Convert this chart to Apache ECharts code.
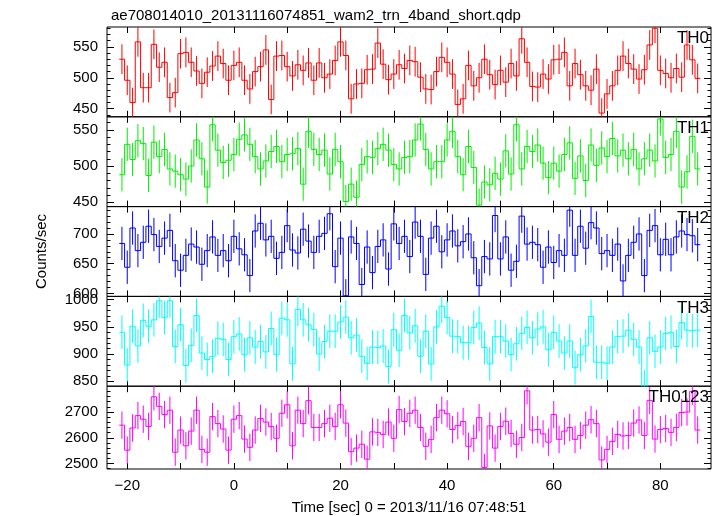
<!DOCTYPE html>
<html><head><meta charset="utf-8">
<script src="https://cdn.jsdelivr.net/npm/echarts@6/dist/echarts.min.js"></script>
<style>html,body{margin:0;padding:0;background:#fff}#c{width:717px;height:516px}</style>
</head><body><div id="c"></div>
<script>
// bin centres [s]
const time = [-21,-20,-19,-18,-17,-16,-15,-14,-13,-12,-11,-10,-9,-8,-7,-6,-5,-4,-3,-2,-1,0,1,2,3,4,5,6,7,8,9,10,11,12,13,14,15,16,17,18,19,20,21,22,23,24,25,26,27,28,29,30,31,32,33,34,35,36,37,38,39,40,41,42,43,44,45,46,47,48,49,50,51,52,53,54,55,56,57,58,59,60,61,62,63,64,65,66,67,68,69,70,71,72,73,74,75,76,77,78,79,80,81,82,83,84,85,86,87];

const th0 = [530,496,460,558,484,484,554,517,525,468,476,539,541,525,511,491,509,519,535,523,496,520,525,496,482,510,518,545,465,535,536,518,503,521,512,524,496,524,500,506,528,558,536,466,490,491,513,514,556,522,497,506,521,515,528,526,501,482,481,510,533,525,506,457,466,520,487,500,530,505,489,512,493,523,503,563,525,486,485,506,498,529,530,541,487,523,505,487,480,514,443,474,487,512,535,523,514,498,513,553,580,512,507,500,515,501,553,529,499];
const th1 = [488,530,509,535,531,487,533,513,523,496,493,488,482,500,536,510,471,557,522,505,508,516,537,543,530,513,496,507,520,527,506,516,517,524,475,548,523,516,522,489,523,506,451,475,457,502,513,512,524,530,522,502,496,512,513,536,558,523,496,506,506,536,548,513,488,527,498,446,478,474,490,482,521,489,557,496,527,520,529,504,484,504,493,516,532,483,514,480,529,501,525,513,538,514,522,510,523,496,510,522,507,565,512,516,548,471,492,541,496];
const th2 = [684,644,710,672,686,713,699,679,693,706,655,639,664,683,678,649,672,695,664,672,655,696,675,665,630,705,718,690,696,659,669,714,673,668,708,688,669,696,701,734,645,693,596,695,684,615,678,635,679,690,641,717,684,696,662,720,696,632,693,713,670,690,705,680,687,700,660,613,662,658,731,658,695,639,654,730,683,686,682,644,678,652,672,664,740,664,713,676,719,710,667,672,664,683,621,664,686,700,630,706,714,665,691,665,695,705,699,697,682];
const th3 = [940,880,951,915,962,951,963,998,967,998,914,954,879,916,971,902,890,896,929,927,890,932,937,899,930,913,923,904,947,899,966,963,882,982,963,954,945,900,923,942,942,959,968,930,935,896,883,913,912,915,877,945,907,971,939,952,896,942,882,950,988,967,933,932,921,921,949,957,912,882,932,932,924,899,919,938,949,930,946,950,908,940,924,902,924,875,899,915,969,885,885,883,913,932,933,944,927,913,840,930,905,913,938,940,914,958,944,943,944];
const th0123 = [2649,2552,2638,2686,2672,2644,2759,2722,2690,2707,2544,2630,2569,2626,2707,2555,2544,2682,2655,2634,2552,2672,2686,2595,2563,2630,2675,2661,2644,2598,2695,2728,2569,2707,2655,2744,2640,2640,2655,2676,2644,2728,2657,2546,2560,2575,2517,2623,2621,2613,2661,2598,2709,2663,2695,2707,2640,2567,2594,2678,2707,2693,2632,2647,2663,2567,2598,2678,2485,2646,2560,2644,2664,2617,2575,2601,2782,2630,2632,2615,2583,2690,2594,2626,2640,2594,2609,2649,2670,2655,2514,2555,2586,2613,2607,2609,2657,2669,2609,2745,2595,2632,2636,2621,2640,2698,2700,2780,2630];

// 1-sigma error per band [counts/sec]
const err0 = 24, err1 = 23, err2 = 28, err3 = 31, err0123 = 53;

const panelNames = ['TH0','TH1','TH2','TH3','TH0123'];
const panelColors = ['#ff0000','#00ee00','#0000ff','#00ffff','#ff00ff'];
const yMin = [437,444,595,841,2479];
const yMax = [582,568,746,1006,2800];
const yMajor = [[450,500,550],[450,500,550],[600,650,700],[850,900,950,1000],[2500,2600,2700]];
const yMinor = [
  [440,460,470,480,490,510,520,530,540,560,570,580],
  [450,460,470,480,490,510,520,530,540,560],
  [610,620,630,640,660,670,680,690,710,720,730,740],
  [860,870,880,890,910,920,930,940,960,970,980,990],
  [2480,2520,2540,2560,2580,2620,2640,2660,2680,2720,2740,2760,2780]
];
const xTicks = [-20,-10,0,10,20,30,40,50,60,70,80];
const xLabels = [-20,0,20,40,60,80];
const xMin = -23.8, xMax = 89.5;

const bands = [th0, th1, th2, th3, th0123];
const errs = [err0, err1, err2, err3, err0123];

const FONT = 'Liberation Sans, Arial, Helvetica, sans-serif';
const chart = echarts.init(document.getElementById('c'), null, {renderer:'canvas'});

const L = 107, R = 6, TOP = 27, H = 89.8;
const grids = [], xAxes = [], yAxes = [], series = [], titles = [];

titles.push({text:'ae708014010_20131116074851_wam2_trn_4band_short.qdp', left:106, top:3,
  textStyle:{fontFamily:FONT, fontSize:15, fontWeight:'normal', color:'#000'}});

const noLine = {show:false, onZero:false};

for (let i = 0; i < 5; i++) {
  grids.push({left:L, right:R, top:TOP + i*H, height:H, show:true, borderColor:'#000', borderWidth:1, backgroundColor:'transparent'});
  const last = i === 4;
  const xb = {gridIndex:i, type:'value', min:xMin, max:xMax, position:'bottom',
    axisLine:noLine, splitLine:{show:false},
    axisTick:{show:true, inside:true, length:6, customValues:xTicks, lineStyle:{color:'#000'}},
    axisLabel:{show:last, customValues:xLabels, fontFamily:FONT, fontSize:15, color:'#000', margin:9,
      formatter: v => String(v).replace('-', '\u2212')}};
  if (last) {
    xb.name = 'Time [sec] 0 = 2013/11/16 07:48:51';
    xb.nameLocation = 'middle';
    xb.nameGap = 31;
    xb.nameTextStyle = {fontFamily:FONT, fontSize:15, color:'#000'};
  }
  xAxes.push(xb);
  xAxes.push({gridIndex:i, type:'value', min:xMin, max:xMax, position:'top',
    axisLine:noLine, splitLine:{show:false}, axisLabel:{show:false},
    axisTick:{show:true, inside:true, length:6, customValues:xTicks, lineStyle:{color:'#000'}}});

  const base = {gridIndex:i, type:'value', min:yMin[i], max:yMax[i], axisLine:noLine, splitLine:{show:false}};
  const yl = Object.assign({}, base, {position:'left',
    axisTick:{show:true, inside:true, length:7, customValues:yMajor[i], lineStyle:{color:'#000'}},
    axisLabel:{show:true, customValues:yMajor[i], fontFamily:FONT, fontSize:15, color:'#000', margin:9,
      formatter: v => String(v)}});
  if (i === 2) {
    yl.name = 'Counts/sec'; yl.nameLocation = 'middle'; yl.nameGap = 58;
    yl.nameTextStyle = {fontFamily:FONT, fontSize:15, color:'#000'};
  }
  yAxes.push(yl);
  yAxes.push(Object.assign({}, base, {position:'left', axisLabel:{show:false},
    axisTick:{show:true, inside:true, length:3.5, customValues:yMinor[i], lineStyle:{color:'#000'}}}));
  yAxes.push(Object.assign({}, base, {position:'right', axisLabel:{show:false},
    axisTick:{show:true, inside:true, length:7, customValues:yMajor[i], lineStyle:{color:'#000'}}}));
  yAxes.push(Object.assign({}, base, {position:'right', axisLabel:{show:false},
    axisTick:{show:true, inside:true, length:3.5, customValues:yMinor[i], lineStyle:{color:'#000'}}}));

  const vals = bands[i], e = errs[i], color = panelColors[i];
  const data = time.map((t, k) => [t, vals[k], k > 0 ? vals[k-1] : vals[k], e]);
  series.push({type:'custom', xAxisIndex:2*i, yAxisIndex:4*i, clip:true, silent:true, animation:false,
    data: data,
    renderItem: function(params, api) {
      const t = api.value(0), v = api.value(1), pv = api.value(2), ee = api.value(3);
      const a = api.coord([t-0.5, v]), b = api.coord([t+0.5, v]);
      const p = api.coord([t-0.5, pv]);
      const lo = api.coord([t, v-ee]), hi = api.coord([t, v+ee]);
      const st = {stroke:color, lineWidth:1, fill:null};
      return {type:'group', children:[
        {type:'line', shape:{x1:p[0], y1:p[1], x2:a[0], y2:a[1]}, style:st},
        {type:'line', shape:{x1:a[0], y1:a[1], x2:b[0], y2:b[1]}, style:st},
        {type:'line', shape:{x1:lo[0], y1:lo[1], x2:hi[0], y2:hi[1]}, style:st}
      ]};
    }});
  titles.push({text:panelNames[i], right:8, top:TOP + i*H + 3,
    textStyle:{fontFamily:FONT, fontSize:17, fontWeight:'normal', color:'#000'}, padding:0});
}

chart.setOption({
  animation:false,
  backgroundColor:'#fff',
  title: titles,
  grid: grids,
  xAxis: xAxes,
  yAxis: yAxes,
  series: series
});
</script>
</body></html>
